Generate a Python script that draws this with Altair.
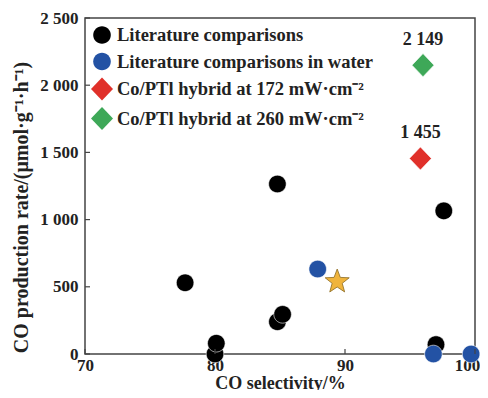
import math
import altair as alt
import pandas as pd

series = [
    "Literature comparisons",
    "Literature comparisons in water",
    "Co/PTl hybrid at 172 mW·cm⁻²",
    "Co/PTl hybrid at 260 mW·cm⁻²",
]
colors = ["#000000", "#2352a4", "#e0302a", "#3ea858"]

black_x = [77.7, 80.0, 80.1, 84.8, 84.8, 85.2, 97.6, 97.0]
black_y = [530, 0, 80, 1265, 240, 295, 1065, 70]
blue_x = [87.9, 96.8, 99.7]
blue_y = [632, 0, 0]
red_x = [95.8]
red_y = [1455]
green_x = [96.0]
green_y = [2149]
star_x = [89.4]
star_y = [538]

label_x = [96.0, 95.8]
label_y = [2149, 1455]
label_text = ["2 149", "1 455"]

x_ticks = [70, 80, 90, 100]
y_ticks = [0, 500, 1000, 1500, 2000, 2500]

FONT = "Liberation Serif"
W, H = 390, 336

# symbol paths in the [-1, 1] box
pts_s = []
for i in range(10):
    r = 1.0 if i % 2 == 0 else 0.42
    a = -math.pi / 2 + i * math.pi / 5
    pts_s.append(f"{r * math.cos(a):.3f},{r * math.sin(a):.3f}")
STAR = "M" + "L".join(pts_s) + "Z"
CIRCLE = "M0.8,0A0.8,0.8 0 1,1 -0.8,0A0.8,0.8 0 1,1 0.8,0Z"
DIAMOND = "M-1,0L0,-1.05L1,0L0,1.05Z"
shapes = [CIRCLE, CIRCLE, DIAMOND, DIAMOND]

rows = []
for xs, ys, s in [(black_x, black_y, series[0]), (blue_x, blue_y, series[1]),
                  (red_x, red_y, series[2]), (green_x, green_y, series[3])]:
    for a, b in zip(xs, ys):
        rows.append({"sel": a, "rate": b, "series": s})
pts = pd.DataFrame(rows)
pts["order"] = list(range(len(pts)))

xscale = alt.Scale(domain=[70, 100], nice=False, zero=False)
yscale = alt.Scale(domain=[0, 2500], nice=False)

lbl_expr = "replace(format(datum.value, ','), ',', ' ')"

points = alt.Chart(pts).mark_point(filled=True, opacity=1, stroke="white", strokeWidth=0.6,
                                    size=484).encode(
    x=alt.X("sel:Q", scale=xscale,
            axis=alt.Axis(values=x_ticks, title="CO selectivity/%", tickSize=0, domain=False,
                          grid=False, labelPadding=3, labelFlush=False,
                          labelOffset=alt.expr("datum.value == 100 ? -8 : 0"),
                          titleY=34, titleBaseline="alphabetic")),
    y=alt.Y("rate:Q", scale=yscale,
            axis=alt.Axis(values=y_ticks, title="CO production rate/(μmol·g⁻¹·h⁻¹)", tickSize=0,
                          domain=False, grid=False, labelPadding=7, labelExpr=lbl_expr,
                          titleFontSize=20, titleX=-64, titleY=189,
                          titleBaseline="middle", titleAlign="center", titleAngle=270)),
    color=alt.Color("series:N", scale=alt.Scale(domain=series, range=colors),
                    legend=alt.Legend(title=None, orient="top-left", offset=0,
                                      labelFont=FONT, labelFontSize=18.5, labelFontWeight="bold",
                                      labelColor="#222", labelOffset=4, rowPadding=5.5,
                                      padding=6, labelLimit=400, symbolSize=484,
                                      symbolStrokeWidth=0)),
    shape=alt.Shape("series:N", scale=alt.Scale(domain=series, range=shapes)),
    order=alt.Order("order:Q"),
)

star = alt.Chart(pd.DataFrame({"sel": star_x, "rate": star_y})).mark_point(
    shape=STAR, filled=True, fill="#f0b43c", stroke="#8a6a20", strokeWidth=0.8, size=640, opacity=1
).encode(x=alt.X("sel:Q", scale=xscale), y=alt.Y("rate:Q", scale=yscale))

labels = alt.Chart(pd.DataFrame({"sel": label_x, "rate": label_y, "t": label_text})).mark_text(
    font=FONT, fontSize=18, fontWeight="bold", color="#222", dy=-25
).encode(x=alt.X("sel:Q", scale=xscale), y=alt.Y("rate:Q", scale=yscale), text="t:N")

xt = alt.Chart(pd.DataFrame({"v": x_ticks})).mark_rule(color="#444", strokeWidth=1.2).encode(
    x=alt.X("v:Q", scale=xscale), y=alt.value(H), y2=alt.value(H - 5))
yt = alt.Chart(pd.DataFrame({"v": y_ticks})).mark_rule(color="#444", strokeWidth=1.2).encode(
    y=alt.Y("v:Q", scale=yscale), x=alt.value(0), x2=alt.value(5))

chart = alt.layer(points, star, labels, xt, yt).properties(
    width=W, height=H,
    autosize=alt.AutoSizeParams(type="none"),
    padding={"left": 77, "top": 10, "right": 5, "bottom": 36},
).configure_view(stroke="#444", strokeWidth=1.5).configure_axis(
    labelFont=FONT, labelFontSize=17, labelFontWeight="bold", labelColor="#222",
    titleFont=FONT, titleFontSize=18, titleFontWeight="bold", titleColor="#222",
)

chart.save("out.html", embed_options={"renderer": "svg", "actions": False})
